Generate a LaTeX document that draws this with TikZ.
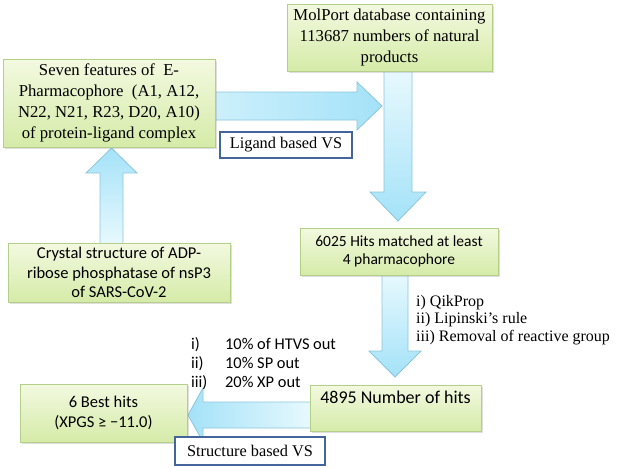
\documentclass[tikz,border=0pt]{standalone}
\usepackage{fontspec}
\setmainfont{Liberation Serif}
\newfontfamily\calib{Carlito}
\usetikzlibrary{shadows}
\definecolor{boxtop}{HTML}{F3F9E0}
\definecolor{boxbot}{HTML}{D5EBA8}
\definecolor{boxline}{HTML}{B3CF88}
\definecolor{arrdark}{HTML}{A4E2F8}
\definecolor{arrpale}{HTML}{E8F9FE}
\definecolor{arrline}{HTML}{8CC6DA}
\definecolor{lblline}{HTML}{43659B}
\begin{document}
\begin{tikzpicture}[x=1pt,y=-1pt,
  gbox/.style={draw=boxline, line width=0.8pt, top color=boxtop, bottom color=boxbot,
    drop shadow={shadow xshift=1.5pt,shadow yshift=-1.5pt,opacity=0.25},
    inner sep=2pt, align=center},
  serifbox/.style={gbox, font=\fontsize{16.7}{20.8}\selectfont},
  sansbox/.style={gbox, font=\calib\fontsize{16.5}{19.5}\selectfont},
  lbl/.style={draw=lblline, line width=1.2pt, fill=white, font=\fontsize{16.3}{18}\selectfont, inner sep=0pt},
  barrow/.style={draw=arrline, line width=0.8pt},
]
\useasboundingbox (0,0) rectangle (622,467);

% block arrows
\draw[barrow, left color=arrpale!60!arrdark, right color=arrdark]
  (212,92) -- (357,92) -- (357,82) -- (382,106) -- (357,130) -- (357,120) -- (212,120) -- cycle;
\draw[barrow, top color=arrpale, bottom color=arrdark]
  (384,69) -- (384,192) -- (370,192) -- (398,221) -- (426,192) -- (412,192) -- (412,69) -- cycle;
\draw[barrow, top color=arrpale, bottom color=arrdark]
  (382,273) -- (382,351) -- (369,351) -- (395,377) -- (421,351) -- (408,351) -- (408,273) -- cycle;
\draw[barrow, left color=arrdark, right color=arrpale]
  (312,402) -- (203,402) -- (203,388) -- (188,415) -- (203,442) -- (203,428) -- (312,428) -- cycle;
\draw[barrow, top color=arrdark, bottom color=arrpale]
  (100,245) -- (100,173) -- (86,173) -- (111.5,148) -- (137,173) -- (123,173) -- (123,245) -- cycle;

% boxes
\node[serifbox, minimum width=212pt, minimum height=88pt] (feat) at (109,103)
  {Seven features of~ E-\\Pharmacophore~ (A1, A12,\\N22, N21, R23, D20, A10)\\of protein-ligand complex};
\node[serifbox, minimum width=205pt, minimum height=67pt] (db) at (389.5,37.5)
  {MolPort database containing\\113687 numbers of natural\\products};
\node[sansbox, minimum width=198pt, minimum height=47pt,
      font=\calib\fontsize{15.5}{18}\selectfont] (hits) at (399,251.5)
  {6025 Hits matched at least\\4 pharmacophore};
\node[sansbox, minimum width=171pt, minimum height=46pt,
      font=\calib\fontsize{18}{21}\selectfont] (num) at (395.5,408)
  {4895 Number of hits\\\mbox{}};
\node[sansbox, minimum width=167pt, minimum height=58pt] (best) at (103.5,413)
  {6 Best hits\\(XPGS ≥ −11.0)};
\node[sansbox, minimum width=222pt, minimum height=59pt] (cryst) at (119,272.5)
  {Crystal structure of ADP-\\ribose phosphatase of nsP3\\of SARS-CoV-2};

% labels
\node[lbl, minimum width=132pt, minimum height=26pt] (lig) at (286,145) {Ligand based VS};
\node[lbl, minimum width=150pt, minimum height=28pt] (str) at (250,451) {Structure based VS};

\node[anchor=north west, inner sep=0pt, font=\calib\fontsize{16.4}{19}\selectfont] (steps) at (191,336)
  {\begin{tabular}{@{}p{34pt}@{}l@{}}i) & 10\% of HTVS out\\ ii) & 10\% SP out\\ iii) & 20\% XP out\end{tabular}};
\node[anchor=north west, inner sep=0pt, align=left, font=\fontsize{16}{17.5}\selectfont] (filters) at (416,295)
  {i) QikProp\\ii) Lipinski’s rule\\iii) Removal of reactive group};
\end{tikzpicture}
\end{document}
